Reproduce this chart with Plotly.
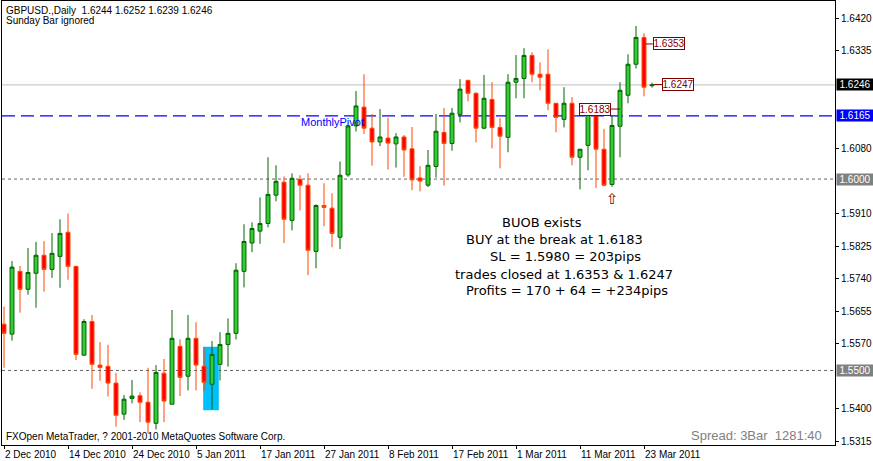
import plotly.graph_objects as go

# GBPUSD daily bars, one per trading day from 2 Dec 2010
opens = [1.5621, 1.5595, 1.5759, 1.5712, 1.5754, 1.5801, 1.5764, 1.5798, 1.5861, 1.5772,
         1.5540, 1.5628, 1.5514, 1.5511, 1.5467, 1.5386, 1.5427, 1.5434, 1.5417, 1.5362,
         1.5493, 1.5412, 1.5563, 1.5485, 1.5584, 1.5511, 1.5464, 1.5516, 1.5568, 1.5597,
         1.5759, 1.5833, 1.5864, 1.5884, 1.5958, 1.5992, 1.5892, 1.5999, 1.5984, 1.5811,
         1.5931, 1.5924, 1.5848, 1.6011, 1.6139, 1.6188, 1.6133, 1.6097, 1.6107, 1.6092,
         1.6110, 1.6079, 1.6003, 1.5984, 1.6033, 1.6122, 1.6093, 1.6169, 1.6258, 1.6224,
         1.6133, 1.6208, 1.6135, 1.6109, 1.6253, 1.6263, 1.6323, 1.6274, 1.6274, 1.6198,
         1.6156, 1.6198, 1.6057, 1.6088, 1.6172, 1.6078, 1.5986, 1.6138, 1.6219, 1.6300,
         1.6370, 1.6244]
highs = [1.5667, 1.5786, 1.5773, 1.5820, 1.5836, 1.5838, 1.5859, 1.5895, 1.5910, 1.5773,
         1.5634, 1.5645, 1.5574, 1.5567, 1.5493, 1.5436, 1.5475, 1.5443, 1.5507, 1.5514,
         1.5530, 1.5658, 1.5581, 1.5645, 1.5626, 1.5561, 1.5577, 1.5600, 1.5636, 1.5780,
         1.5882, 1.5887, 1.5952, 1.6057, 1.6036, 1.6007, 1.6015, 1.6010, 1.6015, 1.5934,
         1.5989, 1.5963, 1.6046, 1.6141, 1.6230, 1.6274, 1.6170, 1.6183, 1.6160, 1.6120,
         1.6115, 1.6136, 1.6034, 1.6076, 1.6170, 1.6186, 1.6186, 1.6261, 1.6258, 1.6227,
         1.6272, 1.6253, 1.6159, 1.6274, 1.6324, 1.6342, 1.6331, 1.6305, 1.6339, 1.6198,
         1.6240, 1.6214, 1.6078, 1.6172, 1.6173, 1.6131, 1.6167, 1.6253, 1.6326, 1.6400,
         1.6381, 1.6252]
lows = [1.5507, 1.5578, 1.5651, 1.5698, 1.5664, 1.5706, 1.5742, 1.5716, 1.5737, 1.5527,
        1.5539, 1.5452, 1.5473, 1.5432, 1.5353, 1.5371, 1.5414, 1.5365, 1.5336, 1.5346,
        1.5365, 1.5412, 1.5433, 1.5448, 1.5448, 1.5446, 1.5399, 1.5474, 1.5510, 1.5581,
        1.5717, 1.5809, 1.5831, 1.5874, 1.5942, 1.5833, 1.5866, 1.5918, 1.5749, 1.5767,
        1.5877, 1.5822, 1.5817, 1.6006, 1.6124, 1.6118, 1.6035, 1.6086, 1.6025, 1.6030,
        1.6006, 1.5971, 1.5968, 1.5979, 1.6004, 1.5983, 1.6074, 1.6148, 1.6203, 1.6096,
        1.6130, 1.6080, 1.6028, 1.6070, 1.6211, 1.6211, 1.6253, 1.6232, 1.6180, 1.6122,
        1.6135, 1.6036, 1.5973, 1.6023, 1.5977, 1.5981, 1.5980, 1.6057, 1.6198, 1.6289,
        1.6216, 1.6239]
closes = [1.5597, 1.5770, 1.5712, 1.5756, 1.5801, 1.5764, 1.5806, 1.5858, 1.5772, 1.5542,
          1.5628, 1.5516, 1.5508, 1.5467, 1.5383, 1.5425, 1.5433, 1.5417, 1.5365, 1.5495,
          1.5420, 1.5584, 1.5482, 1.5584, 1.5514, 1.5469, 1.5542, 1.5568, 1.5597, 1.5762,
          1.5837, 1.5871, 1.5884, 1.5960, 1.5994, 1.5895, 1.6002, 1.5984, 1.5814, 1.5931,
          1.5926, 1.5858, 1.6010, 1.6139, 1.6191, 1.6133, 1.6097, 1.6110, 1.6094, 1.6110,
          1.6076, 1.5998, 1.5995, 1.6036, 1.6125, 1.6093, 1.6172, 1.6235, 1.6224, 1.6133,
          1.6211, 1.6135, 1.6112, 1.6253, 1.6263, 1.6323, 1.6274, 1.6266, 1.6198, 1.6161,
          1.6198, 1.6057, 1.6078, 1.6171, 1.6078, 1.5984, 1.6140, 1.6232, 1.6300, 1.6370,
          1.6240, 1.6246]

date_labels = ["2 Dec 2010", "14 Dec 2010", "24 Dec 2010", "5 Jan 2011", "17 Jan 2011",
               "27 Jan 2011", "8 Feb 2011", "17 Feb 2011", "1 Mar 2011", "11 Mar 2011",
               "23 Mar 2011"]
price_ticks = [1.6420, 1.6335, 1.6080, 1.5910, 1.5825, 1.5740, 1.5655, 1.5570, 1.5400, 1.5315]

last_price = 1.6246
monthly_pivot = 1.6165
round_levels = [1.6000, 1.5500]
entry_price = 1.6183
stop_loss = 1.5980
exit_prices = [1.6353, 1.6247]
box_top, box_bottom = 1.5562, 1.5396

bars = list(range(len(opens)))

# pixel helpers for text placed on the chart (plot area 2..835 x 1..445)
def px_x(px):
    return (px - 2) / 833.0

def px_y(py):
    return (445 - py) / 444.0

fig = go.Figure()

fig.add_trace(go.Candlestick(
    x=bars, open=opens, high=highs, low=lows, close=closes,
    increasing=dict(line=dict(color='#006400', width=1), fillcolor='#32cd32'),
    decreasing=dict(line=dict(color='#ff4500', width=1), fillcolor='#ff0000'),
    whiskerwidth=0, hoverinfo='skip'
))

shapes = [
    # entry signal box
    dict(type='rect', xref='x', yref='y', x0=24.9, x1=26.85, y0=box_bottom, y1=box_top,
         fillcolor='#00bfff', line=dict(width=0), layer='below'),
    dict(type='line', xref='paper', yref='y', x0=0, x1=1, y0=last_price, y1=last_price,
         line=dict(color='#c0c0c0', width=1), layer='below'),
    dict(type='line', xref='paper', yref='y', x0=0, x1=1, y0=monthly_pivot, y1=monthly_pivot,
         line=dict(color='#0000ff', width=1.3, dash='13px,6px'), layer='below'),
    # trade level connectors
    dict(type='line', xref='x', yref='y', x0=75.6, x1=77, y0=entry_price, y1=entry_price,
         line=dict(color='#800000', width=1)),
    dict(type='line', xref='x', yref='y', x0=80.2, x1=81.1, y0=exit_prices[0], y1=exit_prices[0],
         line=dict(color='#800000', width=1)),
    dict(type='line', xref='x', yref='y', x0=81.2, x1=82.25, y0=exit_prices[1], y1=exit_prices[1],
         line=dict(color='#800000', width=1)),
]
for lvl in round_levels:
    shapes.append(dict(type='line', xref='paper', yref='y', x0=0, x1=1, y0=lvl, y1=lvl,
                       line=dict(color='#666666', width=1, dash='3px,3px'), layer='below'))

annotations = [
    dict(text='GBPUSD.,Daily  1.6244 1.6252 1.6239 1.6246', xref='paper', yref='paper',
         x=px_x(4), y=px_y(10), xanchor='left', yanchor='middle', showarrow=False,
         font=dict(size=10)),
    dict(text='Sunday Bar ignored', xref='paper', yref='paper',
         x=px_x(4), y=px_y(21), xanchor='left', yanchor='middle', showarrow=False,
         font=dict(size=10)),
    dict(text='FXOpen MetaTrader, ? 2001-2010 MetaQuotes Software Corp.', xref='paper',
         yref='paper', x=px_x(4), y=px_y(436), xanchor='left', yanchor='middle',
         showarrow=False, font=dict(size=10)),
    dict(text='Spread: 3Bar  1281:40', xref='paper', yref='paper', x=px_x(689), y=px_y(435),
         xanchor='left', yanchor='middle', showarrow=False,
         font=dict(size=13, color='#808080')),
    dict(text='MonthlyPivot', xref='paper', yref='paper', x=px_x(299), y=px_y(122),
         xanchor='left', yanchor='middle', showarrow=False,
         font=dict(size=11, color='#0000ff')),
    dict(text='\u21e7', xref='x', yref='y', x=76, y=stop_loss, xanchor='center', yanchor='top',
         yshift=-1, showarrow=False, font=dict(family='DejaVu Sans', size=15, color='#800000')),
]

# note lines in the middle of the chart
notes = ['BUOB exists', 'BUY at the break at 1.6183', 'SL = 1.5980 = 203pips',
         'trades closed at 1.6353 & 1.6247', 'Profits = 170 + 64 = +234pips']
note_x = [500, 464, 488, 453, 464]
note_y = [222, 239, 256, 274, 290]
for txt, nx, ny in zip(notes, note_x, note_y):
    annotations.append(dict(text=txt, xref='paper', yref='paper', x=px_x(nx), y=px_y(ny),
                            xanchor='left', yanchor='middle', showarrow=False,
                            font=dict(family='DejaVu Sans', size=13, color='black')))

# boxed trade prices
for txt, bx, by in [('1.6183', 71.85, entry_price), ('1.6353', 81.1, exit_prices[0]),
                    ('1.6247', 82.25, exit_prices[1])]:
    annotations.append(dict(text=txt, xref='x', yref='y', x=bx, y=by, xanchor='left',
                            yanchor='middle', showarrow=False, bgcolor='white',
                            bordercolor='#800000', borderwidth=1, borderpad=0,
                            width=30, height=11, font=dict(size=10, color='#800000')))

# coloured price tags on the right scale
for val, bg in [(last_price, '#000000'), (monthly_pivot, '#0000ff'),
                (round_levels[0], '#808080'), (round_levels[1], '#808080')]:
    annotations.append(dict(text=f'{val:.4f}', xref='paper', yref='y', x=1, y=val,
                            xanchor='left', yanchor='middle', xshift=1, showarrow=False,
                            bgcolor=bg, borderpad=0, width=36, height=11,
                            font=dict(size=10, color='white')))

fig.update_layout(
    width=873, height=461,
    margin=dict(l=2, r=38, t=1, b=16),
    paper_bgcolor='white', plot_bgcolor='white',
    showlegend=False, boxgap=0.3,
    font=dict(family='Liberation Sans', size=10, color='black'),
    xaxis=dict(range=[-0.25, 103.875], rangeslider=dict(visible=False),
               tickvals=bars[::8], ticktext=date_labels, ticks='outside', ticklen=3,
               tickcolor='black', ticklabelposition='outside right', tickangle=0,
               automargin=False, showline=True, linecolor='black', mirror=True,
               showgrid=False, zeroline=False),
    yaxis=dict(side='right', range=[1.53053, 1.64652], tickvals=price_ticks,
               tickformat='.4f', ticks='outside', ticklen=3, tickcolor='black',
               automargin=False, showline=True, linecolor='black', mirror=True,
               showgrid=False, zeroline=False),
    shapes=shapes, annotations=annotations,
)

fig.write_html("out.html", config={'displayModeBar': False},
               post_script="document.body.style.margin='0';")
